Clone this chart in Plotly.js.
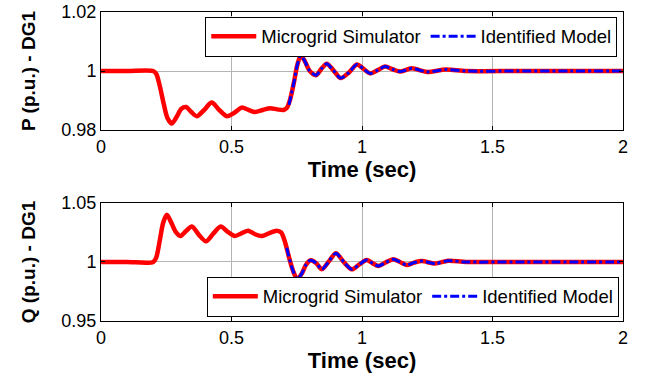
<!DOCTYPE html>
<html><head><meta charset="utf-8">
<script src="https://cdn.plot.ly/plotly-3.0.1.min.js"></script>
<style>html,body{margin:0;padding:0;background:#fff}#chart{width:647px;height:378px}</style>
</head><body><div id="chart"></div>
<script>
// P (p.u.) - DG1, microgrid simulator
const pTime = [0,0.1,0.2,0.212,0.225,0.24,0.255,0.271,0.29,0.308,0.326,0.345,0.367,0.395,0.424,0.453,0.482,0.51,0.539,0.565,0.590,0.62,0.648,0.675,0.70,0.712,0.725,0.74,0.752,0.765,0.78,0.80,0.824,0.845,0.865,0.89,0.918,0.95,0.98,1.005,1.031,1.06,1.088,1.117,1.146,1.19,1.25,1.32,1.4,1.6,1.8,2.0];
const pSim  = [1.0,1.0,1.0,0.999,0.995,0.989,0.984,0.9822,0.9845,0.9872,0.9878,0.9862,0.9847,0.9868,0.9893,0.9868,0.9847,0.9858,0.9876,0.9868,0.9861,0.9868,0.9874,0.9870,0.9868,0.9875,0.9905,0.9965,1.002,1.0052,1.0035,1.0,0.9986,1.0008,1.0025,1.0003,0.9976,0.9995,1.0022,1.0008,0.9992,1.0003,1.0015,1.0006,0.9998,1.0009,0.9997,1.0005,1.0,1.0,1.0,1.0];
// P identified model (starts after the second event)
const pIdTime = [0.72,0.725,0.74,0.752,0.765,0.78,0.80,0.824,0.845,0.865,0.89,0.918,0.95,0.98,1.005,1.031,1.06,1.088,1.117,1.146,1.19,1.25,1.32,1.4,1.6,1.8,2.0];
const pId     = [0.9885,0.9905,0.9965,1.002,1.0052,1.0035,1.0,0.9986,1.0008,1.0025,1.0003,0.9976,0.9995,1.0022,1.0008,0.9992,1.0003,1.0015,1.0006,0.9998,1.0009,0.9997,1.0005,1.0,1.0,1.0,1.0];

// Q (p.u.) - DG1, microgrid simulator
const qTime = [0,0.1,0.2,0.212,0.225,0.238,0.252,0.268,0.285,0.305,0.325,0.348,0.375,0.402,0.43,0.459,0.486,0.513,0.54,0.564,0.59,0.616,0.645,0.673,0.69,0.705,0.718,0.735,0.752,0.77,0.785,0.803,0.825,0.846,0.873,0.9,0.93,0.961,0.99,1.018,1.04,1.063,1.09,1.12,1.145,1.171,1.2,1.229,1.28,1.33,1.4,1.6,1.8,2.0];
const qSim  = [1.0,1.0,1.0,1.004,1.018,1.033,1.040,1.034,1.026,1.022,1.026,1.030,1.023,1.0175,1.024,1.030,1.0255,1.022,1.0245,1.0265,1.0235,1.022,1.0245,1.0265,1.025,1.017,1.006,0.993,0.9855,0.9905,0.9975,1.0015,0.999,0.9938,1.0005,1.0075,1.0,0.9938,0.998,1.0017,0.999,0.9966,0.9995,1.0023,1.0,0.9975,0.9995,1.0008,0.9987,1.001,1.0,1.0,1.0,1.0];
// Q identified model
const qIdTime = [0.712,0.718,0.735,0.752,0.77,0.785,0.803,0.825,0.846,0.873,0.9,0.93,0.961,0.99,1.018,1.04,1.063,1.09,1.12,1.145,1.171,1.2,1.229,1.28,1.33,1.4,1.6,1.8,2.0];
const qId     = [1.012,1.006,0.993,0.9855,0.9905,0.9975,1.0015,0.999,0.9938,1.0005,1.0075,1.0,0.9938,0.998,1.0017,0.999,0.9966,0.9995,1.0023,1.0,0.9975,0.9995,1.0008,0.9987,1.001,1.0,1.0,1.0,1.0];

const xTicks = [0,0.5,1,1.5,2];
const xTickText = ['0','0.5','1','1.5','2'];
const pTicks = [0.98,1,1.02];
const pTickText = ['0.98','1','1.02'];
const qTicks = [0.95,1,1.05];
const qTickText = ['0.95','1','1.05'];
const seriesNames = ['Microgrid Simulator','Identified Model'];

const FONT = 'Liberation Sans, Arial, sans-serif';
const redLine = {color:'#ff0000', width:4.5, shape:'spline', smoothing:0.8};
const blueLine = {color:'#0000ff', width:3, dash:'9px,3px,3px,3px', shape:'spline', smoothing:0.8};

const traces = [
  {x:pTime, y:pSim, type:'scatter', mode:'lines', name:seriesNames[0], line:redLine, xaxis:'x', yaxis:'y', legend:'legend'},
  {x:pIdTime, y:pId, type:'scatter', mode:'lines', name:seriesNames[1], line:blueLine, xaxis:'x', yaxis:'y', legend:'legend'},
  {x:qTime, y:qSim, type:'scatter', mode:'lines', name:seriesNames[0], line:redLine, xaxis:'x2', yaxis:'y2', legend:'legend2'},
  {x:qIdTime, y:qId, type:'scatter', mode:'lines', name:seriesNames[1], line:blueLine, xaxis:'x2', yaxis:'y2', legend:'legend2'}
];

function xaxis(anchor){
  return {anchor:anchor, range:[0,2], tickvals:xTicks, ticktext:xTickText, ticks:'inside', ticklen:4,
    tickcolor:'#000', showline:true, linecolor:'#000', linewidth:1, mirror:'ticks', showgrid:true,
    gridcolor:'#b4b4b4', gridwidth:1, zeroline:false, tickfont:{family:FONT,size:18,color:'#000'},
    title:{text:'<b>Time (sec)</b>', font:{family:FONT,size:22,color:'#000'}, standoff:2}};
}
function yaxis(anchor, domain, range, tv, tt, title){
  return {anchor:anchor, domain:domain, range:range, tickvals:tv, ticktext:tt, ticks:'inside', ticklen:4,
    tickcolor:'#000', showline:true, linecolor:'#000', linewidth:1, mirror:'ticks', showgrid:true,
    gridcolor:'#b4b4b4', gridwidth:1, zeroline:false, tickfont:{family:FONT,size:18,color:'#000'},
    title:{text:'<b>'+title+'</b>', font:{family:FONT,size:19,color:'#000'}, standoff:20}};
}
const legendBase = {orientation:'h', bgcolor:'#fff', bordercolor:'#000', borderwidth:1,
  font:{family:FONT,size:18.5,color:'#000'}, xref:'paper', yref:'paper', xanchor:'right', tracegroupgap:0, itemwidth:45};

const layout = {
  width:647, height:378, paper_bgcolor:'#fff', plot_bgcolor:'#fff',
  margin:{l:101, r:24, t:12, b:57},
  showlegend:true,
  xaxis:Object.assign(xaxis('y'), {domain:[0,1]}),
  yaxis:yaxis('x',[0.618,1],[0.98,1.02],pTicks,pTickText,'P (p.u.) - DG1'),
  xaxis2:Object.assign(xaxis('y2'), {domain:[0,1]}),
  yaxis2:yaxis('x2',[0,0.382],[0.95,1.05],qTicks,qTickText,'Q (p.u.) - DG1'),
  legend:Object.assign({}, legendBase, {x:0.989, y:0.985, yanchor:'top'}),
  legend2:Object.assign({}, legendBase, {x:0.992, y:0.014, yanchor:'bottom'})
};

Plotly.newPlot('chart', traces, layout, {staticPlot:true, displayModeBar:false});
</script></body></html>
